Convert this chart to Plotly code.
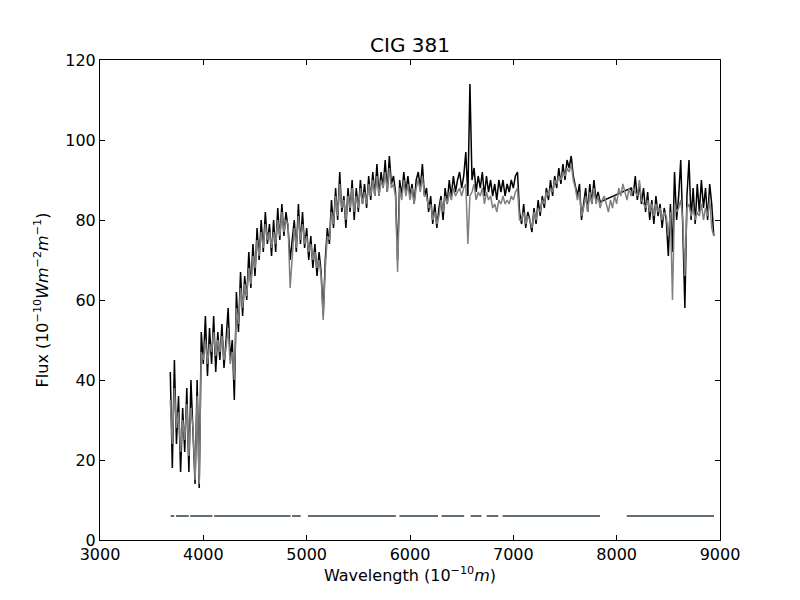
import numpy as np
import plotly.graph_objects as go

# wavelength grid in Angstrom (20 A steps)
wavelength = np.arange(3680, 8941, 20)

# observed flux, black (None = no data, bridged by a straight line)
flux_obs = [
    42, 18, 45, 24, 36, 17, 33, 22, 38, 17,
    40, 26, 14, 40, 13, 52, 44, 56, 41, 53,
    44, 56, 42, 52, 45, 54, 43, 50, 58, 45,
    50, 35, 62, 52, 67, 56, 66, 60, 72, 63,
    74, 66, 78, 70, 80, 72, 82, 74, 79, 71,
    80, 72, 83, 75, 84, 76, 82, 78, 70, 75,
    80, 72, 84, 74, 82, 73, 78, 70, 76, 68,
    74, 66, 72, 67, 56, 70, 78, 74, 85, 78,
    88, 80, 92, 82, 86, 78, 88, 82, 90, 80,
    88, 82, 90, 84, 89, 83, 91, 85, 92, 86,
    94, 86, 92, 88, 95, 87, 96, 89, 91, 87,
    70, 90, 86, 92, 87, 91, 86, 89, 84, 90,
    92, 88, 94, 86, 88, 82, 86, 79, 84, 78,
    83, 86, 80, 88, 84, 90, 86, 91, 87, 90,
    92, 88, 91, 97, 86, 114, 90, 93, 87, 91,
    88, 92, 86, 91, 87, 90, 86, 89, 85, 90,
    87, 90, 86, 89, 87, 90, 88, 91, 92, 82,
    79, 84, 78, 82, 80, 77, 83, 79, 85, 81,
    86, 83, 88, 85, 90, 86, 91, 88, 93, 89,
    94, 90, 95, 93, 96, 91, 88, 86, 89, 80,
    84, 88, 82, 89, 84, 90, 85, 87, 84.5, None,
    None, None, None, None, None, None, None, None, None, None,
    None, None, None, 88, 86, 91, 85, 89, 84, 88,
    82, 87, 80, 85, 79, 86, 81, 84, 78, 83,
    80, 71, 84, 72, 92, 80, 86, 95, 78, 58,
    86, 95, 80, 88, 79, 89, 82, 90, 83, 88,
    80, 89, 84, 76,
]

# model flux, grey
flux_model = [
    35, 24, 38, 28, 32, 22, 30, 25, 34, 21,
    33, 28, 15, 36, 14, 47, 45, 50, 44, 49,
    47, 52, 46, 50, 47, 51, 45, 48, 53, 44,
    47, 40, 58, 54, 63, 58, 64, 61, 68, 64,
    71, 68, 75, 71, 77, 73, 79, 75, 77, 73,
    77, 74, 80, 76, 82, 77, 80, 79, 63, 72,
    78, 73, 81, 75, 79, 74, 76, 72, 74, 70,
    72, 68, 70, 66, 55, 68, 76, 75, 82, 79,
    86, 81, 89, 83, 85, 80, 86, 83, 88, 82,
    86, 83, 88, 84, 87, 84, 89, 86, 90, 86,
    91, 86, 90, 88, 92, 87, 93, 88, 89, 86,
    67, 88, 85, 90, 86, 89, 85, 88, 84, 88,
    90, 87, 91, 86, 86, 83, 84, 80, 82, 79,
    81, 85, 82, 86, 84, 87, 85, 88, 86, 87,
    88, 86, 88, 89, 74, 86, 87, 89, 85, 87,
    86, 88, 84, 87, 85, 86, 83, 84, 82, 85,
    84, 86, 84, 85, 84, 86, 85, 87, 88, 80,
    80, 82, 79, 81, 80, 78, 82, 80, 83, 82,
    85, 84, 87, 86, 88, 87, 90, 89, 91, 90,
    92, 91, 93, 92, 94, 90, 88, 85, 87, 81,
    83, 86, 82, 87, 84, 88, 84, 86, 83, 85,
    86, 84, 82, 85, 83, 86, 84, 88, 86, 89,
    87, 85, 88, 86, 88, 87, 86, 90, 85, 84,
    83, 85, 82, 84, 81, 84, 82, 83, 80, 82,
    81, 76, 82, 60, 84, 82, 83, 85, 80, 66,
    83, 84, 81, 83, 80, 82, 81, 84, 80, 83,
    81, 85, 78, 76,
]

# fitted wavelength windows shown at the bottom
mask_start = [3684, 3736, 3873, 4105, 4858, 5012, 5898, 6306, 6587, 6742, 6896, 8098]
mask_end = [3719, 3859, 4088, 4844, 4942, 5863, 6271, 6524, 6692, 6854, 7838, 8942]
mask_level = 6

mask_x = []
mask_y = []
for s, e in zip(mask_start, mask_end):
    mask_x += [s, e, None]
    mask_y += [mask_level, mask_level, None]

fig = go.Figure()

fig.add_trace(go.Scatter(
    x=wavelength, y=flux_obs, mode='lines', connectgaps=True,
    line=dict(color='black', width=1.5), name='observed'
))
fig.add_trace(go.Scatter(
    x=wavelength, y=flux_model, mode='lines',
    line=dict(color='#808080', width=1.5), name='model'
))
fig.add_trace(go.Scatter(
    x=mask_x, y=mask_y, mode='lines',
    line=dict(color='#5f6e78', width=2), name='mask'
))

axis_style = dict(
    showline=True, linecolor='black', linewidth=1, mirror='allticks',
    ticks='inside', ticklen=5, tickcolor='black', tickwidth=1,
    showgrid=False, zeroline=False,
    tickfont=dict(family='DejaVu Sans', size=16, color='black'),
)

# the page adds an 8 px body margin, so margins are 8 px smaller
fig.update_layout(
    width=800, height=600,
    margin=dict(l=92, r=88, t=52, b=68),
    paper_bgcolor='white', plot_bgcolor='white',
    showlegend=False,
    font=dict(family='DejaVu Sans', color='black'),
    title=dict(text='CIG 381', x=0.5, xref='paper', xanchor='center',
               y=1 - 37 / 600, yref='container', yanchor='middle',
               font=dict(size=20, color='black')),
)
fig.update_xaxes(
    range=[3000, 9000], dtick=1000, tick0=3000,
    title=dict(text='Wavelength (10<sup>−10</sup><i>m</i>)',
               font=dict(size=16), standoff=4),
    **axis_style
)
fig.update_yaxes(
    range=[0, 120], dtick=20, tick0=0,
    title=dict(text='Flux (10<sup>−10</sup><i>Wm</i><sup>−2</sup><i>m</i><sup>−1</sup>)',
               font=dict(size=16), standoff=12),
    **axis_style
)

fig.write_html("out.html")
